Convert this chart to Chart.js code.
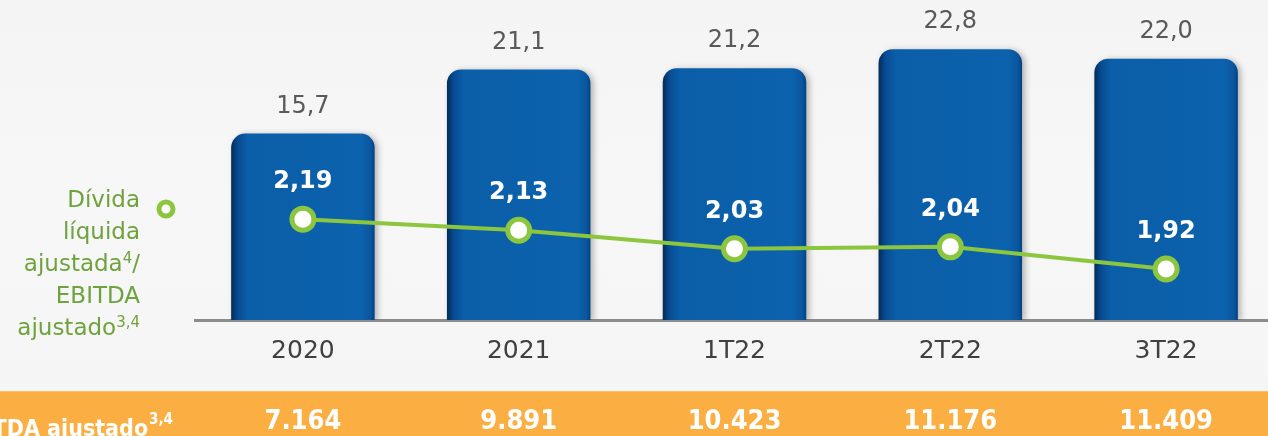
<!DOCTYPE html>
<html>
<head>
<meta charset="utf-8">
<script src="https://cdn.jsdelivr.net/npm/chart.js@4/dist/chart.umd.min.js"></script>
<style>
  html, body { margin: 0; padding: 0; overflow: hidden; background: #f5f5f5; }
  canvas { display: block; }
</style>
</head>
<body>
<canvas id="chart" width="1290" height="436"></canvas>
<script>
// data
const periods = ['2020', '2021', '1T22', '2T22', '3T22'];
const barValues = [15.7, 21.1, 21.2, 22.8, 22.0];
const ratioValues = [2.19, 2.13, 2.03, 2.04, 1.92];
const ebitdaValues = ['7.164', '9.891', '10.423', '11.176', '11.409'];

const FONT = '"DejaVu Sans", Verdana, sans-serif';
const FONT_COND = '"DejaVu Sans Condensed", "DejaVu Sans", sans-serif';
const GREEN = '#8cc63f';
const GREEN_TEXT = '#6ea23c';
const BAR_HALF = 72;

function comma(v, d) {
    return v.toFixed(d).replace('.', ',');
}

function barFill(context) {
    const chart = context.chart;
    const xs = chart.scales.x;
    if (!xs || context.dataIndex === undefined) return '#0b5ea8';
    const x = xs.getPixelForValue(context.dataIndex);
    if (!isFinite(x)) return '#0b5ea8';
    const g = chart.ctx.createLinearGradient(x - BAR_HALF, 0, x + BAR_HALF, 0);
    g.addColorStop(0, '#032a55');
    g.addColorStop(0.05, '#074c93');
    g.addColorStop(0.12, '#0b5ea8');
    g.addColorStop(0.9, '#0c62ad');
    g.addColorStop(0.97, '#0a569f');
    g.addColorStop(1, '#063f7c');
    return g;
}

// background, orange band, value labels, left legend
const decor = {
    id: 'decor',
    beforeDraw(chart) {
        const ctx = chart.ctx;
        const g = ctx.createLinearGradient(0, 0, 0, 391);
        g.addColorStop(0, '#f4f4f4');
        g.addColorStop(0.5, '#f7f7f7');
        g.addColorStop(1, '#f5f5f5');
        ctx.save();
        ctx.fillStyle = g;
        ctx.fillRect(0, 0, chart.width, chart.height);
        ctx.restore();
    },
    beforeDatasetDraw(chart, args) {
        if (args.index !== 0) return;
        const ctx = chart.ctx;
        ctx.save();
        ctx.shadowColor = 'rgba(0,0,0,0.28)';
        ctx.shadowBlur = 6;
        ctx.shadowOffsetX = 3;
        ctx.shadowOffsetY = 1;
    },
    afterDatasetDraw(chart, args) {
        if (args.index !== 0) return;
        chart.ctx.restore();
    },
    afterDatasetsDraw(chart) {
        const ctx = chart.ctx;
        const bars = chart.getDatasetMeta(0).data;
        const pts = chart.getDatasetMeta(1).data;
        ctx.save();
        ctx.textAlign = 'center';
        ctx.textBaseline = 'middle';

        // bar values above bars
        ctx.fillStyle = '#595959';
        ctx.font = '24px ' + FONT;
        bars.forEach((b, i) => {
            ctx.fillText(comma(barValues[i], 1), b.x, b.y - 27);
        });

        // ratio values above points
        ctx.fillStyle = '#ffffff';
        ctx.font = 'bold 24px ' + FONT;
        pts.forEach((p, i) => {
            ctx.fillText(comma(ratioValues[i], 2), p.x, p.y - 37);
        });

        // legend on the left
        ctx.textAlign = 'right';
        ctx.textBaseline = 'alphabetic';
        ctx.fillStyle = GREEN_TEXT;
        ctx.font = '23px ' + FONT;
        const lines = [['Dívida', ''], ['líquida', ''], ['ajustada', '4/'], ['EBITDA', ''], ['ajustado', '3,4']];
        lines.forEach((ln, k) => {
            const y = 207 + k * 32;
            if (ln[1] === '4/') {
                ctx.font = '23px ' + FONT;
                ctx.fillText('/', 140, y);
                const sw = ctx.measureText('/').width;
                ctx.font = '15px ' + FONT;
                ctx.fillText('4', 140 - sw, y - 8);
                const s4 = ctx.measureText('4').width;
                ctx.font = '23px ' + FONT;
                ctx.fillText(ln[0], 140 - sw - s4, y);
            } else if (ln[1] === '3,4') {
                ctx.font = '15px ' + FONT;
                ctx.fillText('3,4', 140, y - 8);
                const s = ctx.measureText('3,4').width;
                ctx.font = '23px ' + FONT;
                ctx.fillText(ln[0], 140 - s, y);
            } else {
                ctx.fillText(ln[0], 140, y);
            }
        });
        ctx.beginPath();
        ctx.arc(166, 209, 7, 0, Math.PI * 2);
        ctx.lineWidth = 5;
        ctx.strokeStyle = GREEN;
        ctx.fillStyle = '#ffffff';
        ctx.fill();
        ctx.stroke();
        ctx.restore();
    },
    afterDraw(chart) {
        const ctx = chart.ctx;
        const xs = chart.scales.x;
        ctx.save();
        ctx.fillStyle = '#fbaf43';
        ctx.fillRect(0, 391, chart.width, chart.height - 391);
        ctx.fillStyle = '#fcc06a';
        ctx.fillRect(0, 391, chart.width, 1);

        ctx.fillStyle = '#ffffff';
        ctx.textBaseline = 'middle';
        ctx.textAlign = 'center';
        ctx.font = 'bold 27px ' + FONT_COND;
        ebitdaValues.forEach((v, i) => {
            ctx.fillText(v, xs.getPixelForValue(i), 422);
        });

        ctx.textAlign = 'right';
        ctx.textBaseline = 'alphabetic';
        ctx.font = 'bold 15px ' + FONT_COND;
        ctx.fillText('3,4', 173, 424);
        const s = ctx.measureText('3,4').width;
        ctx.font = 'bold 23px ' + FONT_COND;
        ctx.fillText('EBITDA ajustado', 173 - s - 1, 436);
        ctx.restore();
    }
};

new Chart(document.getElementById('chart').getContext('2d'), {
    data: {
        labels: periods,
        datasets: [{
            type: 'bar',
            label: 'Dívida líquida',
            data: barValues,
            yAxisID: 'y',
            backgroundColor: barFill,
            borderWidth: 0,
            borderRadius: { topLeft: 14, topRight: 14, bottomLeft: 0, bottomRight: 0 },
            borderSkipped: 'bottom',
            categoryPercentage: 1,
            barPercentage: 0.665,
            order: 1
        }, {
            type: 'line',
            label: 'Dívida líquida ajustada/EBITDA ajustado',
            data: ratioValues,
            yAxisID: 'y2',
            borderColor: GREEN,
            borderWidth: 4,
            pointRadius: 11,
            pointBorderWidth: 5,
            pointBackgroundColor: '#ffffff',
            pointBorderColor: GREEN,
            tension: 0,
            order: 0
        }]
    },
    options: {
        responsive: false,
        animation: false,
        layout: { padding: { left: 195, right: 4, top: 0, bottom: 54 } },
        plugins: { legend: { display: false }, tooltip: { enabled: false } },
        scales: {
            x: {
                grid: { display: false, drawTicks: false },
                border: { display: true, color: '#8c8c8c', width: 3 },
                ticks: { color: '#404040', font: { family: FONT, size: 25 }, padding: 16 }
            },
            y: { display: false, min: 0, max: 25.6 },
            y2: { display: false, min: 1.644, max: 3.29 }
        }
    },
    plugins: [decor]
});
</script>
</body>
</html>
